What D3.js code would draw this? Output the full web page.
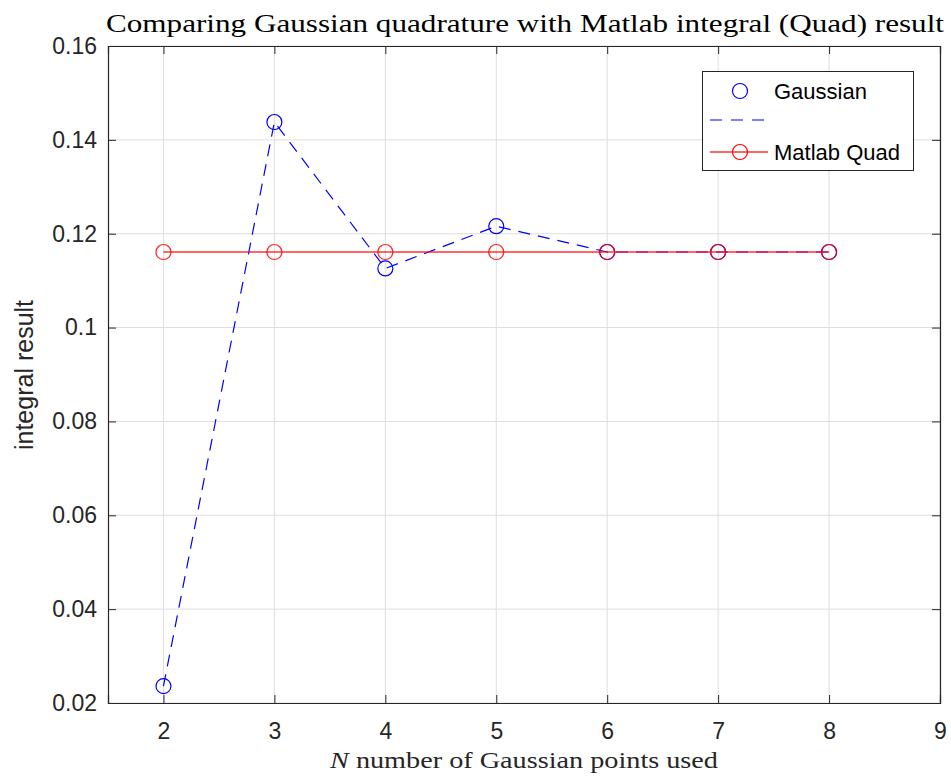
<!DOCTYPE html>
<html lang="en">
<head>
    <meta charset="UTF-8">
    <title>Gaussian quadrature vs Matlab Quad</title>
    <script src="https://d3js.org/d3.v7.min.js"></script>
    <style>
        body { margin: 0; background: #fff; }
    </style>
</head>
<body>
    <svg width="951" height="779" id="chart"></svg>

    <script>
        // data
        const nPoints = [2, 3, 4, 5, 6, 7, 8];
        const gaussian = [0.0236, 0.1438, 0.1126, 0.1216, 0.1161, 0.1161, 0.1161];
        const matlabQuad = [0.1161, 0.1161, 0.1161, 0.1161, 0.1161, 0.1161, 0.1161];
        const xTicks = [2, 3, 4, 5, 6, 7, 8, 9];
        const yTicks = [0.02, 0.04, 0.06, 0.08, 0.1, 0.12, 0.14, 0.16];

        const svg = d3.select("#chart");
        const plotLeft = 108, plotRight = 940, plotTop = 46, plotBottom = 703;

        const x = d3.scaleLinear().domain([1.5, 9]).range([plotLeft, plotRight]);
        const y = d3.scaleLinear().domain([0.02, 0.16]).range([plotBottom, plotTop]);

        const axisColor = "#262626";
        const sans = "'Liberation Sans', Arial, sans-serif";
        const serif = "'Liberation Serif', 'DejaVu Serif', serif";

        // grid
        const grid = svg.append("g");
        grid.selectAll(".gx").data(xTicks).enter().append("line")
            .attr("x1", d => x(d)).attr("x2", d => x(d))
            .attr("y1", plotTop).attr("y2", plotBottom)
            .attr("stroke", "#dedede").attr("stroke-width", 1);
        grid.selectAll(".gy").data(yTicks).enter().append("line")
            .attr("x1", plotLeft).attr("x2", plotRight)
            .attr("y1", d => y(d)).attr("y2", d => y(d))
            .attr("stroke", "#dedede").attr("stroke-width", 1);

        // axes (ticks pointing inward)
        const xAxis = svg.append("g").attr("transform", `translate(0,${plotBottom})`)
            .call(d3.axisBottom(x).tickValues(xTicks).tickSize(-8).tickPadding(20).tickFormat(d3.format("d")));
        const xTop = svg.append("g").attr("transform", `translate(0,${plotTop})`)
            .call(d3.axisTop(x).tickValues(xTicks).tickSize(-8).tickFormat(""));
        const yAxis = svg.append("g").attr("transform", `translate(${plotLeft},0)`)
            .call(d3.axisLeft(y).tickValues(yTicks).tickSize(-8).tickPadding(11).tickFormat(d => String(+d.toFixed(2))));
        const yRight = svg.append("g").attr("transform", `translate(${plotRight},0)`)
            .call(d3.axisRight(y).tickValues(yTicks).tickSize(-8).tickFormat(""));

        [xAxis, xTop, yAxis, yRight].forEach(g => {
            g.select(".domain").attr("stroke", axisColor).attr("stroke-width", 1.2);
            g.selectAll(".tick line").attr("stroke", axisColor);
            g.selectAll("text")
                .attr("fill", "#262626")
                .style("font-family", sans)
                .style("font-size", "23px");
        });

        // Gaussian series: dashed blue line with circles
        const line = d3.line().x((d, i) => x(nPoints[i])).y(d => y(d));
        svg.append("path").datum(gaussian)
            .attr("d", line)
            .attr("fill", "none").attr("stroke", "#0000ff")
            .attr("stroke-width", 1.2).attr("stroke-dasharray", "12,8");
        svg.append("g").selectAll("circle").data(gaussian).enter().append("circle")
            .attr("cx", (d, i) => x(nPoints[i])).attr("cy", d => y(d))
            .attr("r", 7.5).attr("fill", "none").attr("stroke", "#0000ff").attr("stroke-width", 1.2);

        // Matlab Quad: solid red line with circles
        svg.append("path").datum(matlabQuad)
            .attr("d", line)
            .attr("fill", "none").attr("stroke", "#ff0000").attr("stroke-opacity", 0.8)
            .attr("stroke-width", 1.4);
        svg.append("g").selectAll("circle").data(matlabQuad).enter().append("circle")
            .attr("cx", (d, i) => x(nPoints[i])).attr("cy", d => y(d))
            .attr("r", 7.5).attr("fill", "none").attr("stroke", "#ff0000")
            .attr("stroke-opacity", 0.85).attr("stroke-width", 1.2);

        // title and labels
        svg.append("text")
            .attr("x", 525).attr("y", 32)
            .attr("text-anchor", "middle")
            .style("font-family", serif)
            .style("font-size", "26px")
            .attr("textLength", 838).attr("lengthAdjust", "spacingAndGlyphs")
            .text("Comparing Gaussian quadrature with Matlab integral (Quad) result");

        const xl = svg.append("text")
            .attr("x", 524).attr("y", 768)
            .attr("text-anchor", "middle")
            .style("font-family", serif)
            .style("font-size", "24px")
            .attr("fill", "#262626")
            .attr("textLength", 388).attr("lengthAdjust", "spacingAndGlyphs");
        xl.append("tspan").style("font-style", "italic").text("N");
        xl.append("tspan").text(" number of Gaussian points used");

        svg.append("text")
            .attr("transform", "translate(33,375) rotate(-90)")
            .attr("text-anchor", "middle")
            .style("font-family", sans)
            .style("font-size", "25px")
            .attr("fill", "#262626")
            .text("integral result");

        // legend
        const lg = svg.append("g");
        lg.append("rect").attr("x", 702.5).attr("y", 71.5).attr("width", 211).attr("height", 99)
            .attr("fill", "#fff").attr("stroke", "#262626").attr("stroke-width", 1);
        lg.append("circle").attr("cx", 740).attr("cy", 91).attr("r", 7.5)
            .attr("fill", "none").attr("stroke", "#0000ff").attr("stroke-width", 1.2);
        lg.append("line").attr("x1", 710).attr("x2", 768).attr("y1", 120).attr("y2", 120)
            .attr("stroke", "#0000ff").attr("stroke-width", 1.2).attr("stroke-dasharray", "12,9");
        lg.append("line").attr("x1", 710).attr("x2", 768).attr("y1", 152).attr("y2", 152)
            .attr("stroke", "#ff0000").attr("stroke-opacity", 0.8).attr("stroke-width", 1.4);
        lg.append("circle").attr("cx", 740).attr("cy", 152).attr("r", 7.5)
            .attr("fill", "none").attr("stroke", "#ff0000").attr("stroke-width", 1.2);
        lg.selectAll(".lt").data([["Gaussian", 99], ["Matlab Quad", 160]]).enter().append("text")
            .attr("x", 774).attr("y", d => d[1])
            .style("font-family", sans)
            .style("font-size", "22px")
            .attr("fill", "#000")
            .text(d => d[0]);
    </script>
</body>
</html>
